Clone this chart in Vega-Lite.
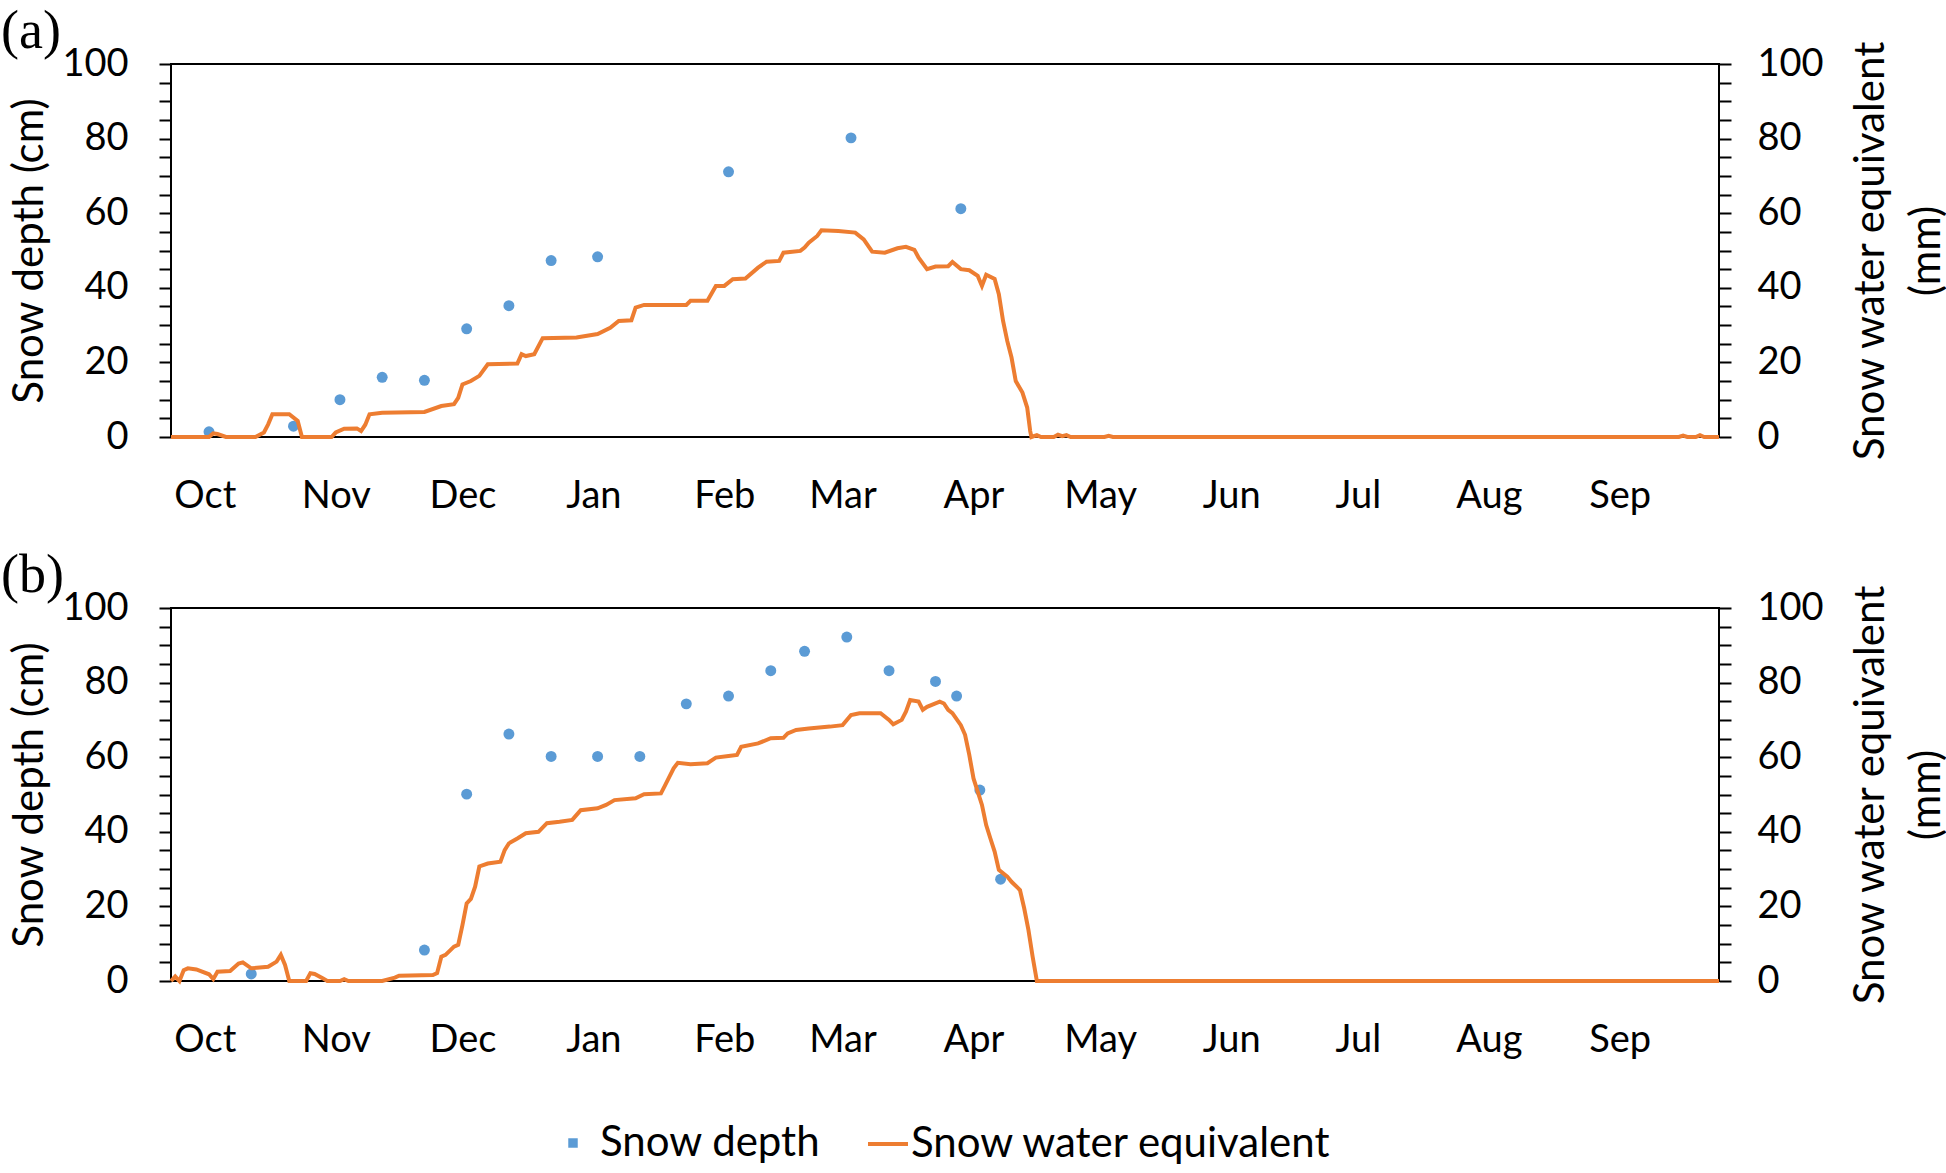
{
  "$schema": "https://vega.github.io/schema/vega-lite/v6.json",
  "background": "white",
  "padding": {"left": 0, "right": 0, "top": 3, "bottom": 0},
  "autosize": {"type": "pad"},
  "config": {
    "font": "Lato",
    "view": {"stroke": "black", "strokeWidth": 2},
    "axis": {"domain": false, "grid": false, "tickColor": "black", "tickWidth": 2, "labelColor": "black", "titleColor": "black", "labelFont": "Lato", "titleFont": "Lato", "labelFontSize": 38, "titleFontSize": 42, "titleFontWeight": "normal"},
    "title": {"font": "Liberation Serif", "fontSize": 54, "fontWeight": "normal", "anchor": "start", "frame": "group", "color": "black", "offset": -19, "dx": -170},
    "legend": {"orient": "none", "direction": "horizontal", "title": null, "labelFontSize": 42, "labelFont": "Lato", "labelColor": "black", "labelLimit": 0}
  },
  "datasets": {
    "depthA": [
      {"date": "2016-10-02", "depth": 1.4},
      {"date": "2016-10-22", "depth": 2.9},
      {"date": "2016-11-02", "depth": 10.0},
      {"date": "2016-11-12", "depth": 16.0},
      {"date": "2016-11-22", "depth": 15.2},
      {"date": "2016-12-02", "depth": 29.0},
      {"date": "2016-12-12", "depth": 35.2},
      {"date": "2016-12-22", "depth": 47.3},
      {"date": "2017-01-02", "depth": 48.3},
      {"date": "2017-02-02", "depth": 71.1},
      {"date": "2017-03-03", "depth": 80.2},
      {"date": "2017-03-29", "depth": 61.2}
    ],
    "sweA": [
      {"date": "2016-09-23", "swe": 0},
      {"date": "2016-10-02", "swe": 0},
      {"date": "2016-10-03", "swe": 1.0},
      {"date": "2016-10-04", "swe": 0.8},
      {"date": "2016-10-06", "swe": 0},
      {"date": "2016-10-13", "swe": 0},
      {"date": "2016-10-15", "swe": 1.2},
      {"date": "2016-10-16", "swe": 3.4},
      {"date": "2016-10-17", "swe": 6.1},
      {"date": "2016-10-21", "swe": 6.1},
      {"date": "2016-10-23", "swe": 4.3},
      {"date": "2016-10-24", "swe": 0},
      {"date": "2016-10-31", "swe": 0},
      {"date": "2016-11-01", "swe": 1.2},
      {"date": "2016-11-03", "swe": 2.2},
      {"date": "2016-11-06", "swe": 2.3},
      {"date": "2016-11-07", "swe": 1.6},
      {"date": "2016-11-08", "swe": 3.3},
      {"date": "2016-11-09", "swe": 6.1},
      {"date": "2016-11-12", "swe": 6.5},
      {"date": "2016-11-22", "swe": 6.7},
      {"date": "2016-11-26", "swe": 8.3},
      {"date": "2016-11-29", "swe": 8.8},
      {"date": "2016-11-30", "swe": 10.5},
      {"date": "2016-12-01", "swe": 14.1},
      {"date": "2016-12-03", "swe": 15.0},
      {"date": "2016-12-05", "swe": 16.4},
      {"date": "2016-12-07", "swe": 19.5},
      {"date": "2016-12-14", "swe": 19.7},
      {"date": "2016-12-15", "swe": 22.2},
      {"date": "2016-12-16", "swe": 21.7},
      {"date": "2016-12-18", "swe": 22.2},
      {"date": "2016-12-20", "swe": 26.5},
      {"date": "2016-12-28", "swe": 26.7},
      {"date": "2017-01-02", "swe": 27.6},
      {"date": "2017-01-05", "swe": 29.3},
      {"date": "2017-01-07", "swe": 31.1},
      {"date": "2017-01-10", "swe": 31.3},
      {"date": "2017-01-11", "swe": 34.7},
      {"date": "2017-01-13", "swe": 35.4},
      {"date": "2017-01-23", "swe": 35.4},
      {"date": "2017-01-24", "swe": 36.5},
      {"date": "2017-01-28", "swe": 36.5},
      {"date": "2017-01-30", "swe": 40.5},
      {"date": "2017-02-01", "swe": 40.5},
      {"date": "2017-02-03", "swe": 42.3},
      {"date": "2017-02-06", "swe": 42.5},
      {"date": "2017-02-09", "swe": 45.4},
      {"date": "2017-02-11", "swe": 47.0},
      {"date": "2017-02-14", "swe": 47.2},
      {"date": "2017-02-15", "swe": 49.4},
      {"date": "2017-02-19", "swe": 49.9},
      {"date": "2017-02-20", "swe": 50.8},
      {"date": "2017-02-21", "swe": 52.1},
      {"date": "2017-02-23", "swe": 53.9},
      {"date": "2017-02-24", "swe": 55.4},
      {"date": "2017-02-28", "swe": 55.2},
      {"date": "2017-03-04", "swe": 54.8},
      {"date": "2017-03-06", "swe": 53.0},
      {"date": "2017-03-08", "swe": 49.7},
      {"date": "2017-03-11", "swe": 49.4},
      {"date": "2017-03-14", "swe": 50.6},
      {"date": "2017-03-16", "swe": 51.0},
      {"date": "2017-03-18", "swe": 50.2},
      {"date": "2017-03-19", "swe": 48.1},
      {"date": "2017-03-21", "swe": 45.0},
      {"date": "2017-03-23", "swe": 45.7},
      {"date": "2017-03-26", "swe": 45.8},
      {"date": "2017-03-27", "swe": 46.9},
      {"date": "2017-03-29", "swe": 45.0},
      {"date": "2017-03-31", "swe": 44.7},
      {"date": "2017-04-02", "swe": 43.2},
      {"date": "2017-04-03", "swe": 40.5},
      {"date": "2017-04-04", "swe": 43.5},
      {"date": "2017-04-06", "swe": 42.4},
      {"date": "2017-04-07", "swe": 38.3},
      {"date": "2017-04-08", "swe": 31.1},
      {"date": "2017-04-09", "swe": 25.7},
      {"date": "2017-04-10", "swe": 21.3},
      {"date": "2017-04-11", "swe": 15.0},
      {"date": "2017-04-12T14:00:00Z", "swe": 11.9},
      {"date": "2017-04-13T17:00:00Z", "swe": 7.9},
      {"date": "2017-04-14T10:00:00Z", "swe": 1.6},
      {"date": "2017-04-14T17:00:00Z", "swe": 0},
      {"date": "2017-04-16", "swe": 0.5},
      {"date": "2017-04-17", "swe": 0},
      {"date": "2017-04-20", "swe": 0},
      {"date": "2017-04-21", "swe": 0.6},
      {"date": "2017-04-22", "swe": 0.2},
      {"date": "2017-04-23", "swe": 0.5},
      {"date": "2017-04-24", "swe": 0},
      {"date": "2017-05-02", "swe": 0},
      {"date": "2017-05-03", "swe": 0.3},
      {"date": "2017-05-04", "swe": 0},
      {"date": "2017-09-15", "swe": 0},
      {"date": "2017-09-16", "swe": 0.4},
      {"date": "2017-09-17", "swe": 0},
      {"date": "2017-09-19", "swe": 0},
      {"date": "2017-09-20", "swe": 0.5},
      {"date": "2017-09-21", "swe": 0},
      {"date": "2017-09-24T12:00:00Z", "swe": 0}
    ],
    "depthB": [
      {"date": "2016-10-12", "depth": 1.9},
      {"date": "2016-11-22", "depth": 8.3},
      {"date": "2016-12-02", "depth": 50.1},
      {"date": "2016-12-12", "depth": 66.2},
      {"date": "2016-12-22", "depth": 60.2},
      {"date": "2017-01-02", "depth": 60.2},
      {"date": "2017-01-12", "depth": 60.2},
      {"date": "2017-01-23", "depth": 74.3},
      {"date": "2017-02-02", "depth": 76.4},
      {"date": "2017-02-12", "depth": 83.2},
      {"date": "2017-02-20", "depth": 88.4},
      {"date": "2017-03-02", "depth": 92.2},
      {"date": "2017-03-12", "depth": 83.2},
      {"date": "2017-03-23", "depth": 80.3},
      {"date": "2017-03-28", "depth": 76.4},
      {"date": "2017-04-02T12:00:00Z", "depth": 51.2},
      {"date": "2017-04-07T10:00:00Z", "depth": 27.3}
    ],
    "sweB": [
      {"date": "2016-09-23", "swe": 0},
      {"date": "2016-09-24", "swe": 1.2},
      {"date": "2016-09-25", "swe": 0},
      {"date": "2016-09-26", "swe": 2.9},
      {"date": "2016-09-27", "swe": 3.4},
      {"date": "2016-09-29", "swe": 3.1},
      {"date": "2016-10-02", "swe": 1.8},
      {"date": "2016-10-03", "swe": 0.5},
      {"date": "2016-10-04", "swe": 2.5},
      {"date": "2016-10-07", "swe": 2.7},
      {"date": "2016-10-09", "swe": 4.7},
      {"date": "2016-10-10", "swe": 5.0},
      {"date": "2016-10-12", "swe": 3.4},
      {"date": "2016-10-14", "swe": 3.6},
      {"date": "2016-10-16", "swe": 3.8},
      {"date": "2016-10-18", "swe": 5.2},
      {"date": "2016-10-19", "swe": 7.0},
      {"date": "2016-10-20", "swe": 4.3},
      {"date": "2016-10-21", "swe": 0},
      {"date": "2016-10-25", "swe": 0},
      {"date": "2016-10-26", "swe": 2.1},
      {"date": "2016-10-27", "swe": 1.9},
      {"date": "2016-10-29", "swe": 0.7},
      {"date": "2016-10-30", "swe": 0},
      {"date": "2016-11-02", "swe": 0},
      {"date": "2016-11-03", "swe": 0.5},
      {"date": "2016-11-04", "swe": 0},
      {"date": "2016-11-12", "swe": 0},
      {"date": "2016-11-15", "swe": 0.9},
      {"date": "2016-11-16", "swe": 1.4},
      {"date": "2016-11-24", "swe": 1.6},
      {"date": "2016-11-25", "swe": 2.1},
      {"date": "2016-11-26", "swe": 6.5},
      {"date": "2016-11-27", "swe": 7.0},
      {"date": "2016-11-29", "swe": 9.2},
      {"date": "2016-11-30", "swe": 9.7},
      {"date": "2016-12-01", "swe": 15.0},
      {"date": "2016-12-02", "swe": 20.8},
      {"date": "2016-12-03", "swe": 22.0},
      {"date": "2016-12-04", "swe": 25.3},
      {"date": "2016-12-05", "swe": 30.7},
      {"date": "2016-12-07", "swe": 31.5},
      {"date": "2016-12-10", "swe": 32.0},
      {"date": "2016-12-11", "swe": 35.1},
      {"date": "2016-12-12", "swe": 36.9},
      {"date": "2016-12-14", "swe": 38.2},
      {"date": "2016-12-16", "swe": 39.6},
      {"date": "2016-12-19", "swe": 40.0},
      {"date": "2016-12-21", "swe": 42.3},
      {"date": "2016-12-24", "swe": 42.7},
      {"date": "2016-12-27", "swe": 43.2},
      {"date": "2016-12-29", "swe": 45.8},
      {"date": "2017-01-02", "swe": 46.3},
      {"date": "2017-01-04", "swe": 47.2},
      {"date": "2017-01-06", "swe": 48.5},
      {"date": "2017-01-11", "swe": 49.0},
      {"date": "2017-01-13", "swe": 50.1},
      {"date": "2017-01-17", "swe": 50.3},
      {"date": "2017-01-18", "swe": 52.5},
      {"date": "2017-01-20", "swe": 57.0},
      {"date": "2017-01-21", "swe": 58.5},
      {"date": "2017-01-24", "swe": 58.1},
      {"date": "2017-01-28", "swe": 58.4},
      {"date": "2017-01-30", "swe": 59.9},
      {"date": "2017-02-02", "swe": 60.3},
      {"date": "2017-02-04", "swe": 60.6},
      {"date": "2017-02-05", "swe": 62.8},
      {"date": "2017-02-09", "swe": 63.7},
      {"date": "2017-02-12", "swe": 65.1},
      {"date": "2017-02-15", "swe": 65.2},
      {"date": "2017-02-16", "swe": 66.4},
      {"date": "2017-02-18", "swe": 67.3},
      {"date": "2017-02-21", "swe": 67.7},
      {"date": "2017-02-26", "swe": 68.2},
      {"date": "2017-03-01", "swe": 68.6},
      {"date": "2017-03-03", "swe": 71.3},
      {"date": "2017-03-05", "swe": 71.8},
      {"date": "2017-03-10", "swe": 71.8},
      {"date": "2017-03-12", "swe": 70.0},
      {"date": "2017-03-13", "swe": 68.8},
      {"date": "2017-03-15", "swe": 70.0},
      {"date": "2017-03-16", "swe": 72.2},
      {"date": "2017-03-17", "swe": 75.3},
      {"date": "2017-03-19", "swe": 74.9},
      {"date": "2017-03-20", "swe": 72.7},
      {"date": "2017-03-21", "swe": 73.5},
      {"date": "2017-03-24", "swe": 74.9},
      {"date": "2017-03-25", "swe": 74.4},
      {"date": "2017-03-26", "swe": 72.7},
      {"date": "2017-03-27", "swe": 71.8},
      {"date": "2017-03-29", "swe": 68.6},
      {"date": "2017-03-30", "swe": 66.0},
      {"date": "2017-03-31", "swe": 60.6},
      {"date": "2017-04-01", "swe": 54.3},
      {"date": "2017-04-03", "swe": 47.2},
      {"date": "2017-04-04", "swe": 41.8},
      {"date": "2017-04-05", "swe": 38.2},
      {"date": "2017-04-06", "swe": 34.7},
      {"date": "2017-04-07", "swe": 29.8},
      {"date": "2017-04-09", "swe": 28.0},
      {"date": "2017-04-10", "swe": 26.6},
      {"date": "2017-04-12", "swe": 24.4},
      {"date": "2017-04-13", "swe": 19.5},
      {"date": "2017-04-14", "swe": 13.7},
      {"date": "2017-04-15", "swe": 6.5},
      {"date": "2017-04-16", "swe": 0},
      {"date": "2017-09-24T12:00:00Z", "swe": 0}
    ]
  },
  "spacing": 31,
  "resolve": {"scale": {"fill": "shared", "stroke": "shared"}, "legend": {"fill": "shared", "stroke": "shared"}},
  "vconcat": [
    {
      "title": {"text": "(a)"},
      "width": 1548,
      "height": 373,
      "encoding": {
        "x": {
          "field": "date", "type": "temporal",
          "scale": {"type": "utc", "domain": [{"year": 2016, "month": 9, "date": 23, "utc": true}, {"year": 2017, "month": 9, "date": 24, "hours": 12, "utc": true}]},
          "axis": {"title": null, "ticks": false, "format": "%b", "labelPadding": 40, "labelFlush": false,
            "values": [{"year": 2016, "month": 10, "date": 1, "utc": true}, {"year": 2016, "month": 11, "date": 1, "utc": true}, {"year": 2016, "month": 12, "date": 1, "utc": true}, {"year": 2017, "month": 1, "date": 1, "utc": true}, {"year": 2017, "month": 2, "date": 1, "utc": true}, {"year": 2017, "month": 3, "date": 1, "utc": true}, {"year": 2017, "month": 4, "date": 1, "utc": true}, {"year": 2017, "month": 5, "date": 1, "utc": true}, {"year": 2017, "month": 6, "date": 1, "utc": true}, {"year": 2017, "month": 7, "date": 1, "utc": true}, {"year": 2017, "month": 8, "date": 1, "utc": true}, {"year": 2017, "month": 9, "date": 1, "utc": true}]}
        }
      },
      "layer": [
        {
          "data": {"name": "depthA"},
          "mark": {"type": "point", "filled": true, "size": 120, "opacity": 1},
          "encoding": {
            "y": {"field": "depth", "type": "quantitative", "scale": {"domain": [0, 100]},
              "axis": {"orient": "left", "title": "Snow depth (cm)", "values": [0,5,10,15,20,25,30,35,40,45,50,55,60,65,70,75,80,85,90,95,100], "labelExpr": "datum.value % 20 === 0 ? datum.label : ''", "tickSize": 12, "labelPadding": 31, "titlePadding": 10}},
            "fill": {"datum": "Snow depth", "type": "nominal",
              "scale": {"domain": ["Snow depth"], "range": ["#5B9BD5"]},
              "legend": {"legendX": 381, "legendY": 1058, "symbolType": "square", "symbolSize": 90, "labelOffset": 6, "symbolStrokeWidth": 0}}
          }
        },
        {
          "data": {"name": "sweA"},
          "mark": {"type": "line", "strokeWidth": 4},
          "encoding": {
            "y": {"field": "swe", "type": "quantitative", "scale": {"domain": [0, 100]},
              "axis": {"orient": "right", "title": ["Snow water equivalent", "(mm)"], "titleAngle": 270, "titleLineHeight": 56, "values": [0,5,10,15,20,25,30,35,40,45,50,55,60,65,70,75,80,85,90,95,100], "labelExpr": "datum.value % 20 === 0 ? datum.label : ''", "tickSize": 12, "labelPadding": 26, "titlePadding": 13}},
            "stroke": {"datum": "Snow water equivalent", "type": "nominal",
              "scale": {"domain": ["Snow water equivalent"], "range": ["#ED7D31"]},
              "legend": {"legendX": 695, "legendY": 1058, "symbolType": "stroke", "symbolSize": 1600, "symbolStrokeWidth": 4, "labelOffset": 1}}
          }
        }
      ],
      "resolve": {"scale": {"y": "independent"}}
    },
    {
      "title": {"text": "(b)"},
      "width": 1548,
      "height": 373,
      "encoding": {
        "x": {
          "field": "date", "type": "temporal",
          "scale": {"type": "utc", "domain": [{"year": 2016, "month": 9, "date": 23, "utc": true}, {"year": 2017, "month": 9, "date": 24, "hours": 12, "utc": true}]},
          "axis": {"title": null, "ticks": false, "format": "%b", "labelPadding": 40, "labelFlush": false,
            "values": [{"year": 2016, "month": 10, "date": 1, "utc": true}, {"year": 2016, "month": 11, "date": 1, "utc": true}, {"year": 2016, "month": 12, "date": 1, "utc": true}, {"year": 2017, "month": 1, "date": 1, "utc": true}, {"year": 2017, "month": 2, "date": 1, "utc": true}, {"year": 2017, "month": 3, "date": 1, "utc": true}, {"year": 2017, "month": 4, "date": 1, "utc": true}, {"year": 2017, "month": 5, "date": 1, "utc": true}, {"year": 2017, "month": 6, "date": 1, "utc": true}, {"year": 2017, "month": 7, "date": 1, "utc": true}, {"year": 2017, "month": 8, "date": 1, "utc": true}, {"year": 2017, "month": 9, "date": 1, "utc": true}]}
        }
      },
      "layer": [
        {
          "data": {"name": "depthB"},
          "mark": {"type": "point", "filled": true, "size": 120, "opacity": 1},
          "encoding": {
            "y": {"field": "depth", "type": "quantitative", "scale": {"domain": [0, 100]},
              "axis": {"orient": "left", "title": "Snow depth (cm)", "values": [0,5,10,15,20,25,30,35,40,45,50,55,60,65,70,75,80,85,90,95,100], "labelExpr": "datum.value % 20 === 0 ? datum.label : ''", "tickSize": 12, "labelPadding": 31, "titlePadding": 10}},
            "fill": {"datum": "Snow depth", "type": "nominal"}
          }
        },
        {
          "data": {"name": "sweB"},
          "mark": {"type": "line", "strokeWidth": 4},
          "encoding": {
            "y": {"field": "swe", "type": "quantitative", "scale": {"domain": [0, 100]},
              "axis": {"orient": "right", "title": ["Snow water equivalent", "(mm)"], "titleAngle": 270, "titleLineHeight": 56, "values": [0,5,10,15,20,25,30,35,40,45,50,55,60,65,70,75,80,85,90,95,100], "labelExpr": "datum.value % 20 === 0 ? datum.label : ''", "tickSize": 12, "labelPadding": 26, "titlePadding": 13}},
            "stroke": {"datum": "Snow water equivalent", "type": "nominal"}
          }
        }
      ],
      "resolve": {"scale": {"y": "independent"}}
    }
  ]
}
